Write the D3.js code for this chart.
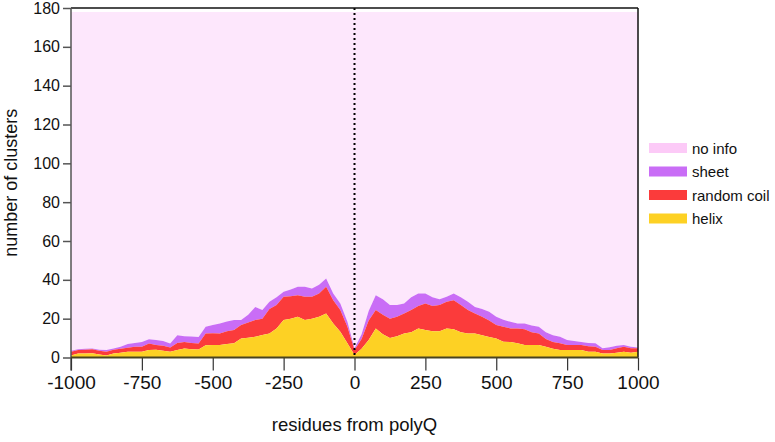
<!DOCTYPE html>
<html>
<head>
<meta charset="utf-8">
<script src="https://cdn.jsdelivr.net/npm/d3@7/dist/d3.min.js"></script>
<style>
  body { margin: 0; background: #fff; }
  svg { display: block; font-family: "Liberation Sans", Arial, Helvetica, sans-serif; }
</style>
</head>
<body>
<svg id="chart" width="775" height="442"></svg>
<script>
// residue positions relative to polyQ
var residues = d3.range(-1000, 1001, 25);

// cluster counts per structure class
var helix = [1, 2, 2, 2.2, 1.5, 1, 2, 2.5, 3, 3, 3, 3.8, 4, 3.5, 2.9, 3.8, 4.6, 4.3, 4.1, 6.3,
  6.5, 6.4, 7, 7.3, 9.8, 10.2, 10.7, 11.6, 12.4, 15, 19.3, 20, 21, 19.3, 20, 21, 22.7, 17.5, 13.3, 7.3,
  1.3, 4.5, 9, 15, 12, 10, 11, 12.4, 13, 15, 14.1, 13.5, 13.5, 15, 14.5, 13, 12.4, 12.4, 11.5, 10.5,
  9.8, 8.1, 8, 7.3, 6.5, 6.4, 6.4, 5.6, 4.5, 3.9, 3.9, 3.9, 3.9, 3, 3, 2, 2, 2.5, 3, 2.4, 3];
var coil = [2, 1.8, 2, 2, 2, 2, 2, 2, 2, 2.5, 2.5, 3.4, 2.5, 2.5, 2.2, 3.7, 3.4, 3.2, 3.1, 6,
  6, 6, 6.5, 6.8, 6.9, 7.8, 8.6, 8.4, 12.6, 12, 12, 11.5, 11, 12, 11.3, 12, 13.7, 12, 11.1, 8.5,
  2.6, 5, 10, 9.4, 10, 10, 10, 10.3, 11.5, 11.5, 13.7, 13, 13.5, 13.7, 15, 14, 12, 10.3, 9.5, 8.5,
  6.9, 7.7, 7, 7.7, 8, 6.6, 6, 3.9, 3.5, 3.4, 2.5, 2.5, 2.5, 2.8, 2.6, 1.9, 1.9, 2.3, 2.6, 2.3, 1.7];
var sheet = [0.5, 0.5, 0.5, 0.4, 0.5, 0.8, 0.6, 1, 2, 2, 2.5, 2.2, 2.5, 2.5, 2.1, 4, 3, 3.3, 3.4, 3.5,
  4.2, 5.1, 5, 5.2, 2.6, 4, 6.7, 4.4, 3.7, 4, 2.5, 3.5, 4.4, 5.1, 4.2, 4.5, 4.3, 3.5, 3.4, 2.6,
  0.8, 2.5, 5, 7.6, 8, 7, 6, 5.1, 6.5, 6.5, 5.2, 4.5, 3, 2.6, 3.5, 4, 4.3, 3.3, 4, 4.5,
  4.3, 3.7, 3.4, 2.5, 3, 3.5, 3.4, 3.5, 3.5, 3.4, 2.6, 2.1, 1.6, 1.7, 1.7, 0.8, 1.4, 1.2, 0.8, 0.9, 0.5];
var noInfo = [174.5, 173.7, 173.5, 173.4, 174, 174.2, 173.4, 172.5, 171, 170.5, 170, 168.6, 169, 169.5, 170.8, 166.5, 167, 167.2, 167.4, 162.2,
  161.3, 160.5, 159.5, 158.7, 158.7, 156, 152, 153.6, 149.3, 147, 144.2, 143, 141.6, 141.6, 142.5, 140.5, 137.3, 145, 150.2, 159.6,
  173.3, 166, 154, 146, 148, 151, 151, 150.2, 147, 145, 145, 147, 148, 146.7, 145, 147, 149.3, 152, 153, 154.5,
  157, 158.5, 159.6, 160.5, 160.5, 161.5, 162.2, 165, 166.5, 167.3, 169, 169.5, 170, 170.5, 170.7, 173.3, 172.7, 172, 171.6, 172.4, 172.8];

var xTicks = [-1000, -750, -500, -250, 0, 250, 500, 750, 1000];
var yTicks = [0, 20, 40, 60, 80, 100, 120, 140, 160, 180];

var layerKeys = ["helix", "coil", "sheet", "noInfo"];
var layerColors = { helix: "#fdd124", coil: "#fb3b3b", sheet: "#c96df6", noInfo: "#fde7fc" };
var legendItems = [
  { label: "no info", color: "#fccaf7" },
  { label: "sheet", color: "#c96df6" },
  { label: "random coil", color: "#fb3b3b" },
  { label: "helix", color: "#fdd124" }
];

// Set margin, width and height
var margin = { top: 8, right: 137, bottom: 84.5, left: 71 };
var width = 775 - margin.left - margin.right;
var height = 442 - margin.top - margin.bottom;

var svg = d3.select("#chart");
var g = svg.append("g")
  .attr("transform", "translate(" + margin.left + "," + margin.top + ")");

var xScale = d3.scaleLinear().domain([-1000, 1000]).range([0, width]);
var yScale = d3.scaleLinear().domain([0, 180]).range([height, 0]);

// build rows for the stack
var rows = residues.map(function(r, i) {
  return { pos: r, helix: helix[i], coil: coil[i], sheet: sheet[i], noInfo: noInfo[i] };
});
var stacked = d3.stack().keys(layerKeys)(rows);

var area = d3.area()
  .x(function(d) { return xScale(d.data.pos); })
  .y0(function(d) { return yScale(d[0]); })
  .y1(function(d) { return yScale(d[1]); });

// no-info layer painted first so the colored layers sit on top of it
g.selectAll("path.layer")
  .data(stacked.slice().reverse())
  .enter()
  .append("path")
  .attr("class", "layer")
  .attr("fill", function(d) { return layerColors[d.key]; })
  .attr("stroke", "none")
  .attr("d", area);

// dotted line at the polyQ position
g.append("line")
  .attr("x1", xScale(0)).attr("x2", xScale(0))
  .attr("y1", 0).attr("y2", height)
  .attr("stroke", "#000")
  .attr("stroke-width", 2)
  .attr("stroke-dasharray", "2,3");

// frame: top and right
g.append("line")
  .attr("x1", 0).attr("x2", width).attr("y1", 0).attr("y2", 0)
  .attr("stroke", "#111").attr("stroke-width", 1.5);
g.append("line")
  .attr("x1", width).attr("x2", width).attr("y1", 0).attr("y2", height)
  .attr("stroke", "#111").attr("stroke-width", 1.5);

// plain labels, hyphen minus, no thousands separator
var plainFormat = function(d) { return String(d); };

// y axis
var yAxis = d3.axisLeft(yScale).tickValues(yTicks).tickSize(8).tickPadding(3).tickFormat(plainFormat);
var yg = g.append("g").call(yAxis);
yg.select(".domain").remove();
yg.selectAll(".tick line").attr("stroke", "#555").attr("stroke-width", 1.5);
yg.selectAll(".tick text").attr("font-size", 16).attr("fill", "#111")
  .attr("font-family", "'Liberation Sans', Arial, sans-serif");
g.append("line")
  .attr("x1", 0).attr("x2", 0).attr("y1", 0).attr("y2", height + 13)
  .attr("stroke", "#555").attr("stroke-width", 1.5);

// x axis
var xAxis = d3.axisBottom(xScale).tickValues(xTicks).tickSize(13).tickPadding(5).tickFormat(plainFormat);
var xg = g.append("g")
  .attr("transform", "translate(0," + height + ")")
  .call(xAxis);
xg.select(".domain").remove();
xg.selectAll(".tick line").attr("stroke", "#333").attr("stroke-width", 1.2);
xg.selectAll(".tick text").attr("font-size", 19).attr("fill", "#111")
  .attr("font-family", "'Liberation Sans', Arial, sans-serif");
g.append("line")
  .attr("x1", 0).attr("x2", width).attr("y1", height).attr("y2", height)
  .attr("stroke", "#4a4420").attr("stroke-width", 2);

// axis titles
svg.append("text")
  .attr("x", margin.left + xScale(0))
  .attr("y", 431)
  .attr("text-anchor", "middle")
  .attr("font-size", 18.5)
  .attr("fill", "#111")
  .text("residues from polyQ");

svg.append("text")
  .attr("transform", "translate(17," + (margin.top + height / 2) + ") rotate(-90)")
  .attr("text-anchor", "middle")
  .attr("font-size", 18)
  .attr("fill", "#111")
  .text("number of clusters");

// legend
var legend = svg.append("g").attr("transform", "translate(649,148)");
var items = legend.selectAll("g")
  .data(legendItems)
  .enter()
  .append("g")
  .attr("transform", function(d, i) { return "translate(0," + (i * 23.5) + ")"; });
items.append("rect")
  .attr("x", 0).attr("y", -5)
  .attr("width", 38).attr("height", 10)
  .attr("fill", function(d) { return d.color; });
items.append("text")
  .attr("x", 43).attr("y", 5.5)
  .attr("font-size", 15)
  .attr("fill", "#111")
  .text(function(d) { return d.label; });
</script>
</body>
</html>
